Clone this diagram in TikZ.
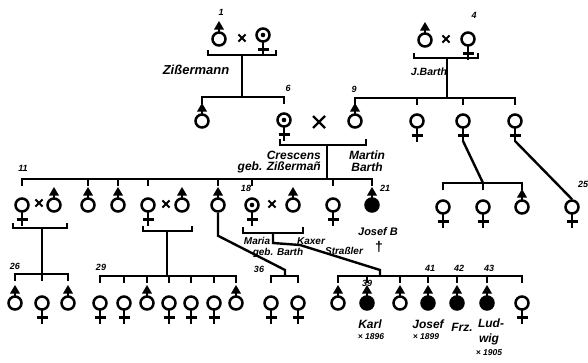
\documentclass[tikz,border=0pt]{standalone}
\usepackage{fontspec}
\setmainfont{Liberation Sans}
\usetikzlibrary{calc}
\newcommand\Ma[2]{\node[ind] (#1) at (#2) {}; \pic at (#1) {maleup};}
\newcommand\Mb[2]{\node[blk] (#1) at (#2) {}; \pic at (#1) {maleup};}
\newcommand\Fe[2]{\node[ind] (#1) at (#2) {}; \pic at (#1) {femcross};}
\newcommand\Fd[2]{\node[ind] (#1) at (#2) {}; \pic at (#1) {femcross}; \pic at (#1) {dotc};}
\newcommand\Mx[2]{\coordinate (#1) at (#2); \pic at (#1) {marry};}
\newcommand\sib[4]{%
  \draw[ln] (#2 |- 0,#1) ++(0,7) -- ++(0,-7) -- (#3 |- 0,#1) -- ++(0,7);
  \foreach \n in {#4} \draw[ln] (\n |- 0,#1) -- ++(0,7);}
\newcommand\brk[4]{% y, left x, right x, hook height
  \draw[ln] (#2,#1-#4) -- (#2,#1) -- (#3,#1) -- (#3,#1-#4);}
\begin{document}
\begin{tikzpicture}[x=1pt,y=-1pt,
 ind/.style={circle,draw,line width=2.5pt,minimum size=13pt,inner sep=0pt},
 blk/.style={ind,fill=black},
 ln/.style={line width=2.4pt},
 lab/.style={font=\bfseries\itshape\fontsize{12}{12}\selectfont,inner sep=0pt},
 num/.style={font=\bfseries\itshape\fontsize{9}{9}\selectfont,inner sep=0pt},
 yr/.style={font=\bfseries\itshape\fontsize{8.5}{8.5}\selectfont,inner sep=0pt},
 maleup/.pic={\draw[ln] (0,-6) -- (0,-11); \fill (-5,-9.5) -- (5,-9.5) -- (0,-18) -- cycle;},
 femcross/.pic={\draw[ln] (0,6) -- (0,20.5) (-5.5,14.5) -- (5.5,14.5);},
 dotc/.pic={\fill (0,0) circle (2.3);},
 marry/.pic={\draw[line width=2pt] (-3.6,-3.6) -- (3.6,3.6) (-3.6,3.6) -- (3.6,-3.6);},
 bigmarry/.pic={\draw[line width=2.2pt] (-6,-6) -- (6,6) (-6,6) -- (6,-6);}
]
\useasboundingbox (0,0) rectangle (588,362);

% ---------- generation 1
\Ma{p1m}{219,39} \Mx{x1}{242,38} \Fd{p1f}{263,35}
\node[num] (n1) at (221,12) {1};
\brk{55}{208}{276}{5}
\coordinate (s1) at (242,55);
\node[lab,font=\bfseries\itshape\fontsize{13}{13}\selectfont] (zim) at (196,70) {Zißermann};

\Ma{p4m}{425,40} \Mx{x4}{446,39} \Fe{p4f}{468,39}
\node[num] (n4) at (474,15) {4};
\brk{58}{414}{478}{5}
\coordinate (s4) at (447,58);
\node[lab,font=\bfseries\itshape\fontsize{10.5}{10.5}\selectfont] (jb) at (429,72) {J.Barth};

% ---------- generation 2
\Ma{g2a}{202,121} \Fd{g2b}{284,120}
\node[num] (n6) at (288,88) {6};
\sib{97}{g2a}{g2b}{g2a}
\draw[ln] (s1) -- (s1 |- 0,97);

\pic at (319,122) {bigmarry};
\Ma{g2c}{355,121} \Fe{g2d}{417,121} \Fe{g2e}{463,121} \Fe{g2f}{515,121}
\node[num] (n9) at (354,89) {9};
\sib{98}{g2c}{g2f}{g2d,g2e}
\draw[ln] (s4) -- (s4 |- 0,98);

\brk{145}{280}{366}{6}
\coordinate (s6) at (327,145);
\node[lab,anchor=east] (cr1) at (321,155) {Crescens};
\node[lab,anchor=east] (cr2) at (321,167) {geb. Zißermañ};
\node[lab] (mb1) at (367,155) {Martin};
\node[lab] (mb2) at (367,167) {Barth};

% ---------- generation 3
\Fe{g3a}{22,205} \Mx{x11}{39,203} \Ma{g3as}{54,205}
\Ma{g3b}{88,205} \Ma{g3c}{118,205}
\Fe{g3d}{148,205} \Mx{xd}{166,204} \Ma{g3ds}{182,205}
\Ma{g3e}{218,205}
\Fd{g3f}{252,205} \Mx{xf}{272,204} \Ma{g3fs}{293,205}
\Fe{g3g}{333,205}
\Mb{g3h}{372,205}
\sib{179}{g3a}{g3h}{g3b,g3c,g3d,g3e,g3f,g3g}
\draw[ln] (s6) -- (s6 |- 0,179);
\node[num] (n11) at (23,168) {11};
\node[num] (n18) at (246,188) {18};
\node[num] (n21) at (385,188) {21};
\node[lab,font=\bfseries\itshape\fontsize{11}{11}\selectfont] (jos) at (378,232) {Josef B};
\node[lab,font=\bfseries\fontsize{14}{14}\selectfont] (dag) at (379,247) {†};

\Fe{g3i}{443,207} \Fe{g3j}{483,207} \Ma{g3k}{522,207}
\sib{183}{g3i}{g3k}{g3j}
\draw[ln] ($(g2e)+(0,20)$) -- (g3j |- 0,183);
\Fe{g3l}{572,207}
\draw[ln] ($(g2f)+(0,20)$) -- (g3l.north);
\node[num] (n25) at (583,184) {25};

% couple brackets generation 3
\brk{228}{13}{67}{5}
\coordinate (s11) at (42,228);
\brk{231}{143}{192}{5}
\coordinate (sd) at (167,231);
\brk{233}{243}{303}{6}
\coordinate (sf) at (273,233);
\node[lab,font=\bfseries\itshape\fontsize{10}{10}\selectfont] (mar1) at (257,241) {Maria};
\node[lab,font=\bfseries\itshape\fontsize{10}{10}\selectfont] (mar2) at (278,253) {geb. Barth};
\node[lab,font=\bfseries\itshape\fontsize{10}{10}\selectfont] (kax) at (311,241) {Kaxer};
\node[lab,font=\bfseries\itshape\fontsize{10}{10}\selectfont] (str) at (344,251) {Straßler};

% ---------- generation 4
\Ma{k1}{15,303} \Fe{k2}{42,303} \Ma{k3}{68,303}
\sib{274}{k1}{k3}{k2}
\draw[ln] (s11) -- (s11 |- 0,274);
\node[num] (n26) at (15,266) {26};

\Fe{m1}{100,303} \Fe{m2}{124,303} \Ma{m3}{147,303} \Fe{m4}{169,303}
\Fe{m5}{191,303} \Fe{m6}{214,303} \Ma{m7}{236,303}
\sib{276}{m1}{m7}{m2,m3,m4,m5,m6}
\draw[ln] (sd) -- (sd |- 0,276);
\node[num] (n29) at (101,267) {29};

\Fe{q1}{271,303} \Fe{q2}{298,303}
\sib{276}{q1}{q2}{q1}
\coordinate (c36) at (285,276);
\draw[ln] (g3e.south) -- ++(0,23) -- (c36 |- 0,270) -- (c36);
\node[num] (n36) at (259,269) {36};

\Ma{r1}{338,303} \Mb{r2}{367,303} \Ma{r3}{400,303} \Mb{r4}{428,303}
\Mb{r5}{457,303} \Mb{r6}{487,303} \Fe{r7}{522,303}
\sib{276}{r1}{r7}{r2,r3,r4,r5,r6}
\coordinate (c39) at (380,276);
\draw[ln] (sf) -- ++(0,10) -- (300,245) -- (c39 |- 0,270) -- (c39);
\node[num] (n39) at (367,283) {39};
\node[num] (n41) at (430,268) {41};
\node[num] (n42) at (459,268) {42};
\node[num] (n43) at (489,268) {43};

\node[lab] (karl) at (370,324) {Karl};
\node[yr] (y1) at (371,337) {× 1896};
\node[lab] (josef) at (428,324) {Josef};
\node[yr] (y2) at (426,337) {× 1899};
\node[lab] (frz) at (462,327) {Frz.};
\node[lab] (lud1) at (491,323) {Lud-};
\node[lab] (lud2) at (489,339) {wig};
\node[yr] (y3) at (489,353) {× 1905};
\end{tikzpicture}
\end{document}
